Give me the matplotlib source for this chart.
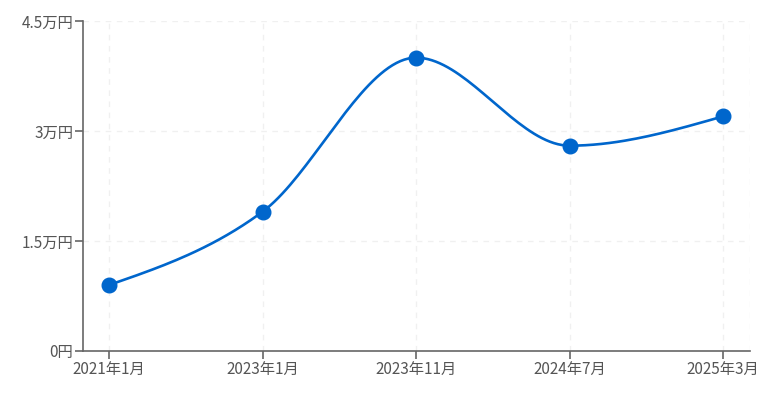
import numpy as np
import matplotlib
matplotlib.use('Agg')
import matplotlib.pyplot as plt

plt.rcParams['font.family'] = ['Noto Sans CJK JP', 'DejaVu Sans']

# data
labels = ['2021年1月', '2023年1月', '2023年11月', '2024年7月', '2025年3月']
values = [9000, 19000, 40000, 28000, 32000]
yticks = [0, 15000, 30000, 45000]
ytick_labels = ['0円', '1.5万円', '3万円', '4.5万円']


def monotone_x(x, y, n=40):
    # d3 curveMonotoneX style cubic bezier through the points
    x = np.asarray(x, float)
    y = np.asarray(y, float)
    h = np.diff(x)
    s = np.diff(y) / h
    t = np.zeros(len(x))
    for i in range(1, len(x) - 1):
        p = (s[i - 1] * h[i] + s[i] * h[i - 1]) / (h[i - 1] + h[i])
        t[i] = (np.sign(s[i - 1]) + np.sign(s[i])) * min(abs(s[i - 1]), abs(s[i]), 0.5 * abs(p))
    t[0] = (3 * s[0] - t[1]) / 2
    t[-1] = (3 * s[-1] - t[-2]) / 2
    xs, ys = [], []
    u = np.linspace(0, 1, n)
    for i in range(len(x) - 1):
        dx = h[i] / 3
        px = [x[i], x[i] + dx, x[i + 1] - dx, x[i + 1]]
        py = [y[i], y[i] + dx * t[i], y[i + 1] - dx * t[i + 1], y[i + 1]]
        b = [(1 - u) ** 3, 3 * u * (1 - u) ** 2, 3 * u ** 2 * (1 - u), u ** 3]
        xs.append(sum(bk * pk for bk, pk in zip(b, px)))
        ys.append(sum(bk * pk for bk, pk in zip(b, py)))
    return np.concatenate(xs), np.concatenate(ys)


fig = plt.figure(figsize=(7.74, 3.99), dpi=100)
ax = fig.add_axes([83 / 774, 48 / 399, 667 / 774, 330 / 399])

pos = np.arange(len(labels))
cx, cy = monotone_x(pos, values)
ax.plot(cx, cy, color='#0066cc', lw=1.9, zorder=3, solid_capstyle='round')
ax.plot(pos, values, 'o', color='#0066cc', ms=10.5, zorder=4)

ax.set_xlim(-0.17, 4.175)
ax.set_ylim(0, 45000)
ax.set_xticks(pos)
ax.set_xticklabels(labels)
ax.set_yticks(yticks)
ax.set_yticklabels(ytick_labels)

grid_kw = dict(color='#f0f0f0', lw=1, ls=(0, (4, 4)), zorder=0)
for yv in yticks[1:]:
    ax.axhline(yv, **grid_kw)
for xv in list(pos) + [4.175]:
    ax.axvline(xv, **grid_kw)

for side in ['top', 'right']:
    ax.spines[side].set_visible(False)
for side in ['left', 'bottom']:
    ax.spines[side].set_color('#666666')
    ax.spines[side].set_linewidth(1.2)
ax.tick_params(axis='both', colors='#666666', length=6, width=1.2, labelsize=11,
               labelcolor='#555555', pad=1)

plt.savefig('out.png', dpi=100)
